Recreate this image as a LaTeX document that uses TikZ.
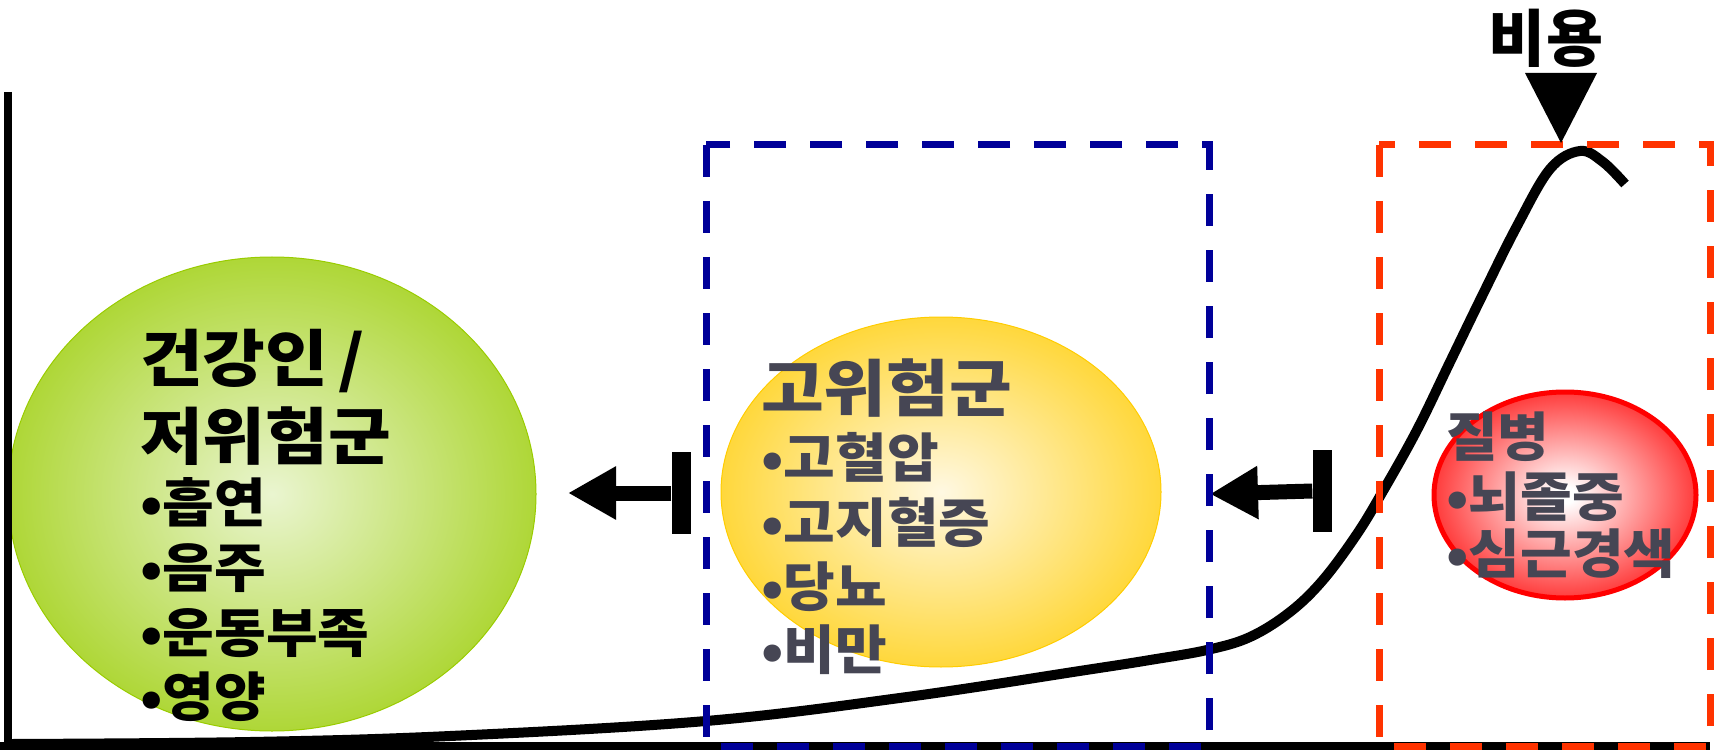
\documentclass[tikz,border=0pt]{standalone}
\usepackage{fontspec}
\usepackage{tikz}
\usetikzlibrary{shapes.geometric, arrows.meta}

\newfontfamily\kr{Noto Sans CJK KR}
\newfontfamily\krwide{Noto Sans CJK KR}[FakeStretch=1.1]
\newfontfamily\krsemi{Noto Sans CJK KR}[FakeStretch=1.06]
\newcommand\krhead{\krwide\bfseries\fontsize{62pt}{70pt}\selectfont}
\newcommand\kritem{\krsemi\bfseries\fontsize{53pt}{60pt}\selectfont}
\newcommand\krcost{\kr\bfseries\fontsize{62pt}{70pt}\selectfont}

\definecolor{greenin}{RGB}{234,245,208}
\definecolor{greenout}{RGB}{153,204,0}
\definecolor{goldin}{RGB}{255,248,226}
\definecolor{goldout}{RGB}{255,204,0}
\definecolor{redout}{RGB}{255,0,0}
\definecolor{boxblue}{RGB}{0,0,153}
\definecolor{boxred}{RGB}{255,51,0}
\definecolor{slate}{RGB}{70,70,84}

\pgfdeclareradialshading{greenball}{\pgfpoint{0bp}{0bp}}{color(0bp)=(greenin); color(34bp)=(greenout); color(50bp)=(greenout)}
\pgfdeclareradialshading{goldball}{\pgfpoint{0bp}{0bp}}{color(0bp)=(goldin); color(34bp)=(goldout); color(50bp)=(goldout)}
\pgfdeclareradialshading{redball}{\pgfpoint{0bp}{0bp}}{color(0bp)=(white); color(2bp)=(white); color(32bp)=(redout); color(50bp)=(redout)}

\begin{document}
\begin{tikzpicture}
        [
            x=1pt, y=-1pt,
            group/.style={ellipse, inner sep=0pt, shade},
            head/.style={anchor=base west, inner sep=0pt, font=\krhead},
            item/.style={anchor=base west, inner sep=0pt, font=\kritem},
            bar/.style={rectangle, fill=black, inner sep=0pt, minimum width=19pt, minimum height=82pt},
            blockarrow/.style={line width=15pt, -{Triangle[length=48pt, width=50pt]}},
            region/.style={line width=7pt, dash pattern=on 32pt off 24pt},
            axis/.style={line width=8pt},
        ]
        \useasboundingbox (0,0) rectangle (1721,751);

        % groups
        \node[group, shading=greenball, draw=greenout, line width=1pt,
              minimum width=528pt, minimum height=474pt] (healthy) at (272,494) {};
        \node[group, shading=goldball, draw=goldout, line width=1pt,
              minimum width=440pt, minimum height=350pt] (highrisk) at (941,492) {};
        \node[group, shading=redball, draw=redout, line width=5pt,
              minimum width=262pt, minimum height=206pt] (disease) at (1565,495) {};

        \node[head] (healthy1) at (140,381) {건강인\,/};
        \node[head] (healthy2) at (140,459) {저위험군};
        \node[item] (smoke) at (140,522) {•흡연};
        \node[item] (drink) at (140,587) {•음주};
        \node[item] (exercise) at (140,652) {•운동부족};
        \node[item] (diet) at (140,716) {•영양};

        \node[head, text=slate] (risk) at (761,411) {고위험군};
        \node[item, text=slate] (pressure) at (761,477) {•고혈압};
        \node[item, text=slate] (lipid) at (761,542) {•고지혈증};
        \node[item, text=slate] (diabetes) at (761,606) {•당뇨};
        \node[item, text=slate] (obesity) at (761,669) {•비만};

        \node[item, text=slate] (ill) at (1446,456) {질병};
        \node[item, text=slate] (stroke) at (1446,516) {•뇌졸중};
        \node[item, text=slate] (infarct) at (1446,573) {•심근경색};

        % prevention arrows
        \node[bar] (bar1) at (681,493) {};
        \coordinate (tip1) at (568,493);
        \draw[blockarrow] (bar1.west) -- (tip1);
        \node[bar] (bar2) at (1322,491) {};
        \coordinate (tip2) at (1210,494);
        \draw[blockarrow] (bar2.west) -- (tip2);

        % axes
        \coordinate (ytop) at (8,92);
        \coordinate (origin) at (8,746);
        \coordinate (xend) at (1710,746);
        \draw[axis] (ytop) -- (origin) -- (xend);
        \draw[axis] (origin) -- (0,746);

        % cost curve
        \draw[line width=10pt] plot[smooth, tension=0.6] coordinates {
            (12,744) (250,742) (450,736) (706,721) (907,697) (1086,670)
            (1150,660) (1207,650) (1250,637) (1290,612) (1323,580)
            (1357,534) (1383,491) (1417,430) (1450,362) (1483,294)
            (1517,226) (1550,169) (1580,151) (1603,162) (1625,184)};

        % regions
        \draw[region, boxblue] (706,145) rectangle (1209,746);
        \draw[region, boxred] (1379,145) rectangle (1710,746);

        % cost label
        \node[font=\krcost] (cost) at (1546,38) {비용};
        \coordinate (costtip) at (1561,143);
        \fill (1525,73) -- (1597,73) -- (costtip) -- cycle;
    \end{tikzpicture}
\end{document}
